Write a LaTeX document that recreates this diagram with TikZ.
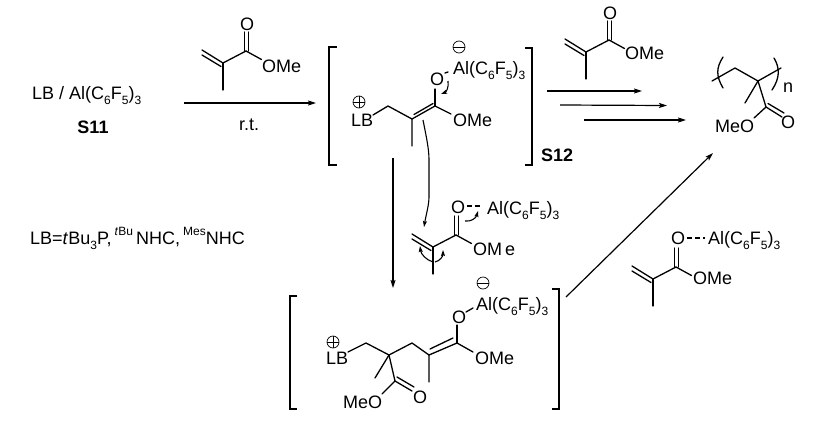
\documentclass[tikz,border=0pt]{standalone}
\usepackage{fontspec}
\setmainfont{Liberation Sans}
\usetikzlibrary{arrows.meta}
\newcommand{\sbs}[1]{\raisebox{-0.28em}{\fontsize{12}{12}\selectfont #1}}
\newcommand{\sps}[1]{\raisebox{0.5em}{\fontsize{12}{12}\selectfont #1}}
\newcommand{\alcf}{Al(C\sbs{6}F\sbs{5})\sbs{3}}
\tikzset{
  txt/.style={inner sep=0pt,anchor=base west,font=\fontsize{18}{20}\selectfont},
  bond/.style={line width=1.3pt,line cap=round,line join=round},
  thinb/.style={line width=1.1pt},
  rarrow/.style={line width=1.2pt,-{Stealth[length=8pt,width=5pt,inset=1.5pt]}},
  curly/.style={line width=1.1pt,-{Stealth[length=6pt,width=4pt,inset=1pt]}},
  brack/.style={line width=1.4pt},
  charge/.style={circle,draw,line width=0.7pt,inner sep=0pt,minimum size=12pt,font=\fontsize{13}{13}\selectfont},
  mma/.pic={
    \draw[bond] (-21,-13) -- (0,0);
    \draw[bond] (-21,-8) -- (-2,3.5);
    \draw[bond] (0,0) -- (0,27);
    \draw[bond] (0,0) -- (23,-12);
    \draw[bond] (21.5,-12) -- (21.5,-31);
    \draw[bond] (25.5,-12) -- (25.5,-31);
    \draw[bond] (23,-12) -- (38.5,-3.5);
  }
}
\begin{document}
\begin{tikzpicture}[x=1pt,y=-1pt]
\useasboundingbox (0,0) rectangle (834,431);
% left text
\node[txt] (lbal) at (32,99.5) {LB / \alcf};
\node[txt,anchor=base,font=\fontsize{18}{20}\selectfont\bfseries] (s11) at (93,133.5) {S11};
\node[txt] (lbdef) at (30,244.5) {LB=\textit{t}Bu\sbs{3}P,\,\sps{\textit{t}Bu}\,NHC,\,\sps{Mes}NHC};
% first MMA
\pic at (223,63) {mma};
\node[txt] (o1) at (240,30.5) {O};
\node[txt] (ome1) at (262,72.5) {OMe};
\coordinate (a1s) at (184,103);
\coordinate (a1e) at (316,103);
\draw[rarrow] (a1s) -- (a1e);
\node[txt,anchor=base] (rt) at (249,130.5) {r.t.};
% S12 brackets
\draw[brack] (337,47) -- (329,47) -- (329,165) -- (337,165);
\draw[brack] (525,48) -- (532,48) -- (532,165) -- (525,165);
\node[txt,font=\fontsize{18}{20}\selectfont\bfseries] (s12) at (541,161.5) {S12};
% S12 content
\node[txt] (lb1) at (351,126.5) {LB};
\node[charge] (p1) at (359,102) {};
\draw[line width=0.7pt] (p1.west) -- (p1.east) (p1.north) -- (p1.south);
\draw[bond] (373,115) -- (388,106) -- (412,119) -- (412,146);
\draw[bond] (412,119) -- (435,106);
\draw[bond] (414,114.5) -- (433,103.5);
\draw[bond] (435,106) -- (435,89);
\draw[bond] (435,106) -- (451,114);
\node[txt] (o2) at (430,85.5) {O};
\node[txt] (ome2) at (453,126.5) {OMe};
\node[txt] (al2) at (453,74.5) {\alcf};
\node[charge] (m2) at (459,47) {};
\draw[line width=0.7pt] (m2.west) -- (m2.east);
\draw[bond] (445,73) -- (448,72);
\coordinate (c1s) at (448,81);
\coordinate (c1e) at (441,94);
\draw[curly] (c1s) .. controls (449,88) and (446,92) .. (c1e);
% long curved arrow
\coordinate (c2s) at (423,120);
\coordinate (c2e) at (424,227);
\draw[curly] (c2s) .. controls (427,140) and (429,150) .. (429,160) -- (429,197) .. controls (429,205) and (426,215) .. (c2e);
% straight down arrow
\coordinate (d1s) at (393,158);
\coordinate (d1e) at (393,288);
\draw[rarrow] (d1s) -- (d1e);
% second MMA with Al
\pic at (433,247) {mma};
\node[txt] (o3) at (451,213.5) {O};
\node[txt] (ome3) at (473,255.5) {OM\,e};
\node[txt] (al3) at (487,214.5) {\alcf};
\draw[thinb,dash pattern=on 5pt off 3pt] (o3.east |- 0,206) ++(2,0) -- (483,206);
\coordinate (c3s) at (465,221);
\coordinate (c3e) at (478,211);
\draw[curly] (c3s) .. controls (471,222) and (476,218) .. (c3e);
\coordinate (r1s) at (433,262);
\coordinate (r1e) at (420,246);
\draw[curly] (r1s) .. controls (426,260) and (421,254) .. (r1e);
\coordinate (r2s) at (435,262);
\coordinate (r2e) at (443,250);
\draw[curly] (r2s) .. controls (440,261) and (443,256) .. (r2e);
% third MMA
\pic at (586,52) {mma};
\node[txt] (o4) at (603,19.5) {O};
\node[txt] (ome4) at (625,59.5) {OMe};
% three arrows
\coordinate (t1s) at (547,91);
\coordinate (t1e) at (642,91);
\coordinate (t2s) at (560,105);
\coordinate (t2e) at (667,105.5);
\coordinate (t3s) at (584,120);
\coordinate (t3e) at (686,120);
\draw[rarrow] (t1s) -- (t1e);
\draw[rarrow] (t2s) -- (t2e);
\draw[rarrow] (t3s) -- (t3e);
% polymer
\draw[bond] (712,81) -- (735,68) -- (758,81) -- (781,68);
\draw[bond] (758,81) -- (745,103);
\draw[bond] (758,81) -- (766,107) -- (754,118);
\draw[bond] (766,107) -- (782,117);
\draw[bond] (768,103.5) -- (784,113);
\draw[bond] (723,57) .. controls (716,68) and (716,76) .. (723,88);
\draw[bond] (774,58) .. controls (780,68) and (780,78) .. (772,90);
\node[txt] (n) at (783,92.5) {n};
\node[txt] (meo1) at (715,132.5) {MeO};
\node[txt] (o5) at (781,128.5) {O};
% bottom brackets
\draw[brack] (297,296) -- (290,296) -- (290,409) -- (297,409);
\draw[brack] (552,289) -- (559,289) -- (559,409) -- (552,409);
% bottom content
\node[txt] (lb2) at (326,364.5) {LB};
\node[charge] (p2) at (333,342) {};
\draw[line width=0.7pt] (p2.west) -- (p2.east) (p2.north) -- (p2.south);
\draw[bond] (348,352) -- (366,343) -- (389,355) -- (412,343) -- (429,355) -- (429,382);
\draw[bond] (429,355) -- (457,343);
\draw[bond] (430,349) -- (453,338);
\draw[bond] (457,343) -- (457,325);
\draw[bond] (457,343) -- (473,352);
\draw[bond] (466,312) -- (473,308);
\draw[bond] (389,355) -- (375,378);
\draw[bond] (389,355) -- (395,381) -- (382,394);
\draw[bond] (395,381) -- (412,391);
\draw[bond] (397,377) -- (414,387);
\node[txt] (o6) at (452,323.5) {O};
\node[txt] (ome6) at (475,364.5) {OMe};
\node[txt] (al6) at (476,310.5) {\alcf};
\node[charge] (m6) at (483,283) {};
\draw[line width=0.7pt] (m6.west) -- (m6.east);
\node[txt] (meo2) at (343,408.5) {MeO};
\node[txt] (o7) at (413,403.5) {O};
% arrow to polymer
\coordinate (b1s) at (566,297);
\coordinate (b1e) at (713,153);
\draw[rarrow] (b1s) -- (b1e);
% fourth MMA
\pic at (653,279) {mma};
\node[txt] (o8) at (671,244.5) {O};
\node[txt] (ome8) at (693,284.5) {OMe};
\node[txt] (al8) at (708,244.5) {\alcf};
\draw[thinb,dash pattern=on 5pt off 3pt] (687,238) -- (705,238);
\end{tikzpicture}
\end{document}
